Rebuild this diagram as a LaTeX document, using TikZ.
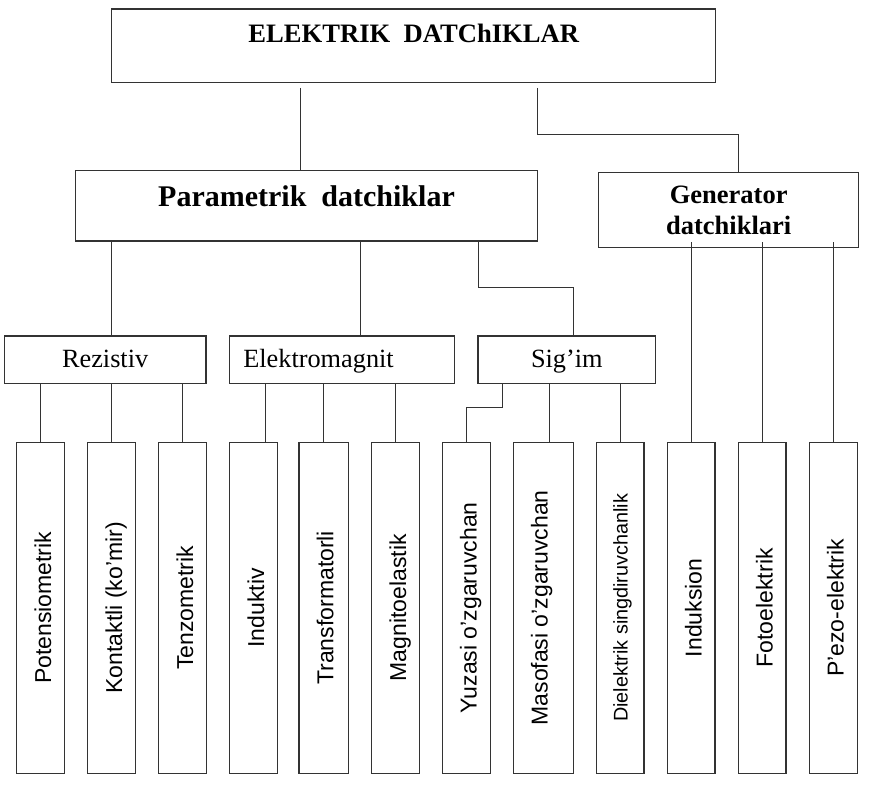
\documentclass[tikz,border=0pt]{standalone}
\usepackage{fontspec}
\usepackage{graphicx}
\setmainfont{Liberation Serif}
\newfontfamily\arialfont{Liberation Sans}

\tikzset{
    box/.style={draw=black!80, line width=1.2pt, inner sep=0pt},
    midbox/.style={box, minimum height=47.3pt, text height=18pt, text depth=2pt, font=\fontsize{26.3}{30}\selectfont},
    vbox/.style={box, minimum height=331pt},
    link/.style={draw=black!80, line width=1pt},
}
% rotated label: #1 = left edge to baseline, #2 = rest of the box width
\newcommand{\vlabel}[3]{\rotatebox{90}{\raisebox{0pt}[#1][#2]{#3}}}

\begin{document}
\begin{tikzpicture}[x=1pt, y=-1pt]
    \useasboundingbox (0,0) rectangle (873,789);

    \node[box, minimum width=604pt, minimum height=73.3pt, text height=33.3pt, text depth=40pt,
        font=\fontsize{26.6}{30}\selectfont\bfseries] (elektrik) at (413.7, 45.65) {ELEKTRIK~~DATChIKLAR};
    \node[box, minimum width=461.6pt, minimum height=70.3pt, text height=35.3pt, text depth=35pt,
        font=\fontsize{30}{34}\selectfont\bfseries] (par) at (306.5, 205.85) {Parametrik~~datchiklar};
    \node[box, minimum width=260pt, minimum height=75.4pt, align=center,
        font=\fontsize{26.5}{31}\selectfont\bfseries] (gen) at (728.7, 210) {Generator\\datchiklari};

    \node[midbox, minimum width=201.7pt] (rez) at (105.15, 359.65) {Rezistiv};
    \node[midbox, text width=225.4pt, align=left] (elm) at (342, 359.65) {\hspace*{14pt}Elektromagnit};
    \node[midbox, minimum width=177.7pt] (sig) at (566.85, 359.65) {Sig’im};

    \foreach \nm/\cx/\w/\fs/\h/\txt in {
        pot/40.5/47.6/23/34.3/Potensiometrik,
        kon/111.5/47.6/23/34.3/{Kontaktli (ko’mir)},
        ten/182.5/47.6/23/34.3/Tenzometrik,
        ind/253.5/47.6/23/34.3/Induktiv,
        tra/323.7/49.3/23/34.3/Transformatorli,
        mag/395.5/47.6/23/34.3/Magnitoelastik,
        yuz/466.3/48/23/34.3/{Yuzasi o’zgaruvchan},
        mas/543.3/60/23/34.3/{Masofasi o’zgaruvchan},
        die/620.3/47.3/19.8/31/{Dielektrik singdiruvchanlik},
        inds/691.2/47.7/23/34.3/Induksion,
        fot/762.2/47.7/23/34.3/Fotoelektrik,
        pez/833.3/48/23/34.3/P’ezo-elektrik}
        \node[vbox, minimum width=\w pt, font=\arialfont\fontsize{\fs}{\fs}\selectfont] (\nm) at (\cx, 607.8)
            {\vlabel{\h pt}{\dimexpr\w pt-\h pt\relax}{\txt}};

    % top level
    \draw[link] ([shift={(-113pt,-5pt)}]elektrik.south) coordinate (e1) -- (e1 |- par.north);
    \draw[link] ([shift={(123.6pt,-5pt)}]elektrik.south) |- ([shift={(10pt,37.3pt)}]gen.north) -- ([xshift=10pt]gen.north);

    % parametrik
    \draw[link] ([xshift=6.5pt]rez.north) coordinate (r1) -- (r1 |- par.south);
    \draw[link] ([xshift=18pt]elm.north) coordinate (m1) -- (m1 |- par.south);
    \draw[link] ([xshift=172.2pt]par.south) |- ([shift={(6.15pt,47.7pt)}]sig.north) -- ([xshift=6.15pt]sig.north);

    % bottom row
    \foreach \nm in {pot, kon, ten}
        \draw[link] (\nm.north) -- (\nm.north |- rez.south);
    \draw[link] ([xshift=12.2pt]ind.north) coordinate (i1) -- (i1 |- elm.south);
    \foreach \nm in {tra, mag}
        \draw[link] (\nm.north) -- (\nm.north |- elm.south);
    \draw[link] ([xshift=-64.55pt]sig.south) -- ++(0pt,-23.4pt) -| (yuz.north);
    \draw[link] ([xshift=6.4pt]mas.north) coordinate (s1) -- (s1 |- sig.south);
    \draw[link] (die.north) -- (die.north |- sig.south);
    \foreach \nm in {inds, fot, pez}
        \draw[link, shorten >=-6pt] (\nm.north) -- (\nm.north |- gen.south);
\end{tikzpicture}
\end{document}
